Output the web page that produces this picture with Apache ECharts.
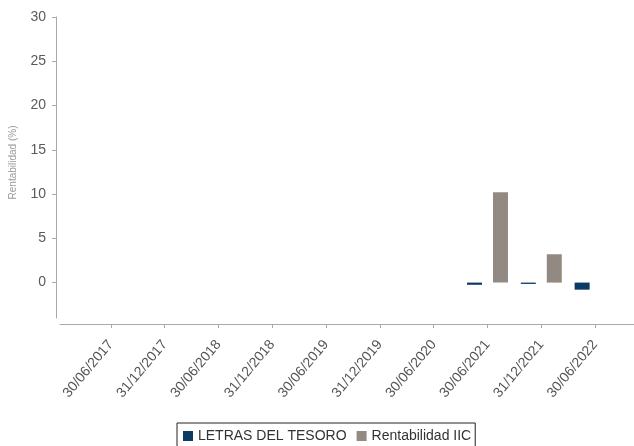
<!DOCTYPE html>
<html>
<head>
<meta charset="utf-8">
<script src="https://cdn.jsdelivr.net/npm/echarts@6/dist/echarts.min.js"></script>
<style>
  html, body { margin: 0; padding: 0; background: #fff; }
  #chart { width: 634px; height: 446px; }
</style>
</head>
<body>
<div id="chart"></div>
<script>
// Fechas de cierre de cada periodo
const categories = ['30/06/2017', '31/12/2017', '30/06/2018', '31/12/2018', '30/06/2019',
                    '31/12/2019', '30/06/2020', '30/06/2021', '31/12/2021', '30/06/2022'];
// Rentabilidad (%) por periodo
const letrasTesoro = [null, null, null, null, null, null, null, -0.25, -0.15, -0.8];
const rentabilidadIIC = [null, null, null, null, null, null, null, 10.2, 3.2, null];
// Marcas del eje vertical
const yTicks = [0, 5, 10, 15, 20, 25, 30];

const chart = echarts.init(document.getElementById('chart'), null, { renderer: 'canvas' });
const font = 'Arial, "Liberation Sans", sans-serif';

chart.setOption({
  animation: false,
  textStyle: { fontFamily: font },
  grid: [
    { left: 83, right: 12, top: 17, bottom: 128 },
    { left: 60, right: 0, top: 17, bottom: 122 }
  ],
  legend: {
    left: 177,
    top: 423,
    itemWidth: 10,
    itemHeight: 10,
    itemGap: 10,
    icon: 'rect',
    borderColor: '#222',
    borderWidth: 1,
    padding: [6, 4, 6, 6],
    textStyle: { fontSize: 14, color: '#333', fontFamily: font },
    data: ['LETRAS DEL TESORO', 'Rentabilidad IIC']
  },
  xAxis: [
    {
      type: 'category',
      gridIndex: 0,
      data: categories,
      boundaryGap: true,
      offset: 6,
      axisLine: { show: false, onZero: false },
      axisTick: { show: true, alignWithLabel: true, length: 4, lineStyle: { color: '#aaa' } },
      axisLabel: { rotate: 50, fontSize: 14, color: '#555', margin: 18, interval: 0 }
    },
    {
      type: 'value',
      gridIndex: 1,
      min: 0, max: 1,
      axisLine: { show: true, onZero: false, lineStyle: { color: '#aaa' } },
      axisTick: { show: false },
      axisLabel: { show: false },
      splitLine: { show: false }
    }
  ],
  yAxis: [
    {
      type: 'value',
      gridIndex: 0,
      min: -4,
      max: 30,
      offset: 28,
      name: 'Rentabilidad (%)',
      nameLocation: 'middle',
      nameRotate: 90,
      nameGap: 38,
      nameTextStyle: { fontSize: 10, color: '#999', padding: [0, 0, 0, 10] },
      axisLine: { show: true, lineStyle: { color: '#aaa' } },
      axisTick: { show: true, length: 4, customValues: yTicks, lineStyle: { color: '#aaa' } },
      axisLabel: { fontSize: 14, color: '#5a5a5a', margin: 10, customValues: yTicks },
      splitLine: { show: false }
    },
    {
      type: 'value',
      gridIndex: 1,
      show: false
    }
  ],
  series: [
    {
      name: 'LETRAS DEL TESORO',
      type: 'bar',
      xAxisIndex: 0,
      yAxisIndex: 0,
      data: letrasTesoro,
      barWidth: 15,
      barGap: '73%',
      itemStyle: { color: '#0d3b66' }
    },
    {
      name: 'Rentabilidad IIC',
      type: 'bar',
      xAxisIndex: 0,
      yAxisIndex: 0,
      data: rentabilidadIIC,
      barWidth: 15,
      barGap: '73%',
      itemStyle: { color: '#928a82' }
    }
  ]
});
</script>
</body>
</html>
